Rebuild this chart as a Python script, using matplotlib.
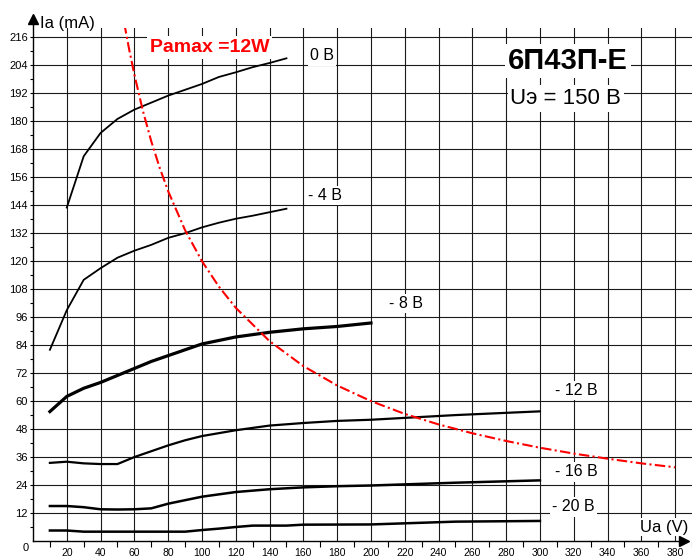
import numpy as np
import matplotlib
matplotlib.use("Agg")
import matplotlib.pyplot as plt

plt.rcParams['font.family'] = ['Liberation Sans', 'DejaVu Sans']

# anode characteristics 6P43P-E, Ug2 = 150 V
ua_0 = [20, 30, 40, 50, 60, 70, 80, 90, 100, 110, 120, 130, 140, 150]
ia_0 = [143, 165, 175, 181, 185, 188, 191, 193.5, 196, 199, 201, 203.2, 205, 207]

ua_4 = [10, 20, 30, 40, 50, 60, 70, 80, 90, 100, 110, 120, 130, 140, 150]
ia_4 = [82, 99, 112, 117, 121.5, 124.5, 127, 130, 132, 134.5, 136.5, 138.2, 139.5, 141, 142.5]

ua_8 = [10, 20, 30, 40, 50, 60, 70, 80, 90, 100, 120, 140, 160, 180, 200]
ia_8 = [55.5, 62, 65.5, 68, 71, 74, 77, 79.5, 82, 84.5, 87.5, 89.5, 91, 92, 93.5]

ua_12 = [10, 20, 30, 40, 50, 60, 70, 80, 90, 100, 120, 140, 160, 180, 200, 250, 300]
ia_12 = [33.5, 34, 33.3, 33, 33, 36, 38.5, 41, 43.2, 45, 47.5, 49.5, 50.6, 51.5, 52, 54, 55.6]

ua_16 = [10, 20, 30, 40, 50, 60, 70, 80, 90, 100, 120, 140, 160, 180, 200, 250, 300]
ia_16 = [15, 15, 14.5, 13.6, 13.5, 13.6, 14, 16, 17.5, 19, 21, 22.2, 23, 23.5, 23.8, 25, 26]

ua_20 = [10, 20, 30, 40, 60, 80, 90, 100, 110, 120, 130, 150, 160, 200, 250, 300]
ia_20 = [4.5, 4.5, 4, 4, 4, 4, 4, 4.7, 5.3, 6, 6.6, 6.6, 7, 7.1, 8.3, 8.6]

# Pa max = 12 W boundary
ua_pa = [54, 57, 60, 65, 70, 75, 80, 90, 100, 110, 120, 140, 160, 180, 200,
         220, 240, 260, 280, 300, 320, 340, 360, 380]
ia_pa = [222, 210.5, 200, 184.6, 171.4, 160, 150, 133.3, 120, 109.1, 100, 85.7, 75, 66.7, 60,
         54.5, 50, 46.2, 42.9, 40, 37.5, 35.3, 33.3, 31.6]

curve_labels = ['0 В', '- 4 В', '- 8 В', '- 12 В', '- 16 В', '- 20 В']
label_pos = [(171, 208), (173, 148.3), (220.6, 102), (321.8, 64.7), (321.8, 29.6), (320, 14.6)]

x_ticks = list(range(20, 381, 20))
y_ticks = list(range(12, 217, 12))

fig = plt.figure(figsize=(6.92, 5.58), dpi=100)
ax = fig.add_axes([33 / 692, 17 / 558, 659 / 692, 513 / 558])
ax.set_xlim(0, 387.6)
ax.set_ylim(0, 220)

for s in ax.spines.values():
    s.set_visible(False)

ax.set_xticks(x_ticks)
ax.set_xticks([v - 10 for v in x_ticks] + [390], minor=True)
ax.set_yticks(y_ticks)
ax.set_yticks([v - 6 for v in y_ticks], minor=True)
ax.set_xticklabels([str(v) for v in x_ticks], fontsize=7.5)
ax.set_yticklabels([str(v) for v in y_ticks], fontsize=8)
ax.tick_params(axis='x', which='major', length=0, pad=5)
ax.tick_params(axis='x', which='minor', length=4, width=0.8, direction='out')
ax.tick_params(axis='y', which='both', length=2.3, width=0.8, pad=1.5, direction='out')
ax.grid(True, which='major', color='#1a1a1a', linewidth=0.8)
ax.set_axisbelow(True)

# axes with arrows
ax.plot([0, 0], [0, 224], color='black', lw=1.0, clip_on=False, zorder=5)
ax.plot([0, 386], [0, 0], color='black', lw=1.0, clip_on=False, zorder=5)
ax.plot([0], [224], marker='^', color='black', ms=7, clip_on=False, zorder=6)
ax.plot([385.5], [0], marker='>', color='black', ms=7, clip_on=False, zorder=6)
ax.text(-2.5, -2.8, '0', fontsize=8, ha='right', va='center', clip_on=False)

ax.plot(ua_0, ia_0, color='black', lw=1.3, zorder=3)
ax.plot(ua_4, ia_4, color='black', lw=1.3, zorder=3)
ax.plot(ua_8, ia_8, color='black', lw=2.3, zorder=3)
ax.plot(ua_12, ia_12, color='black', lw=1.6, zorder=3)
ax.plot(ua_16, ia_16, color='black', lw=1.8, zorder=3)
ax.plot(ua_20, ia_20, color='black', lw=1.8, zorder=3)

ax.plot(ua_pa, ia_pa, color='#ff0000', lw=1.5, linestyle=(0, (5, 1.6, 1, 1.6)), zorder=4)

box = dict(facecolor='white', edgecolor='none', pad=1.5)
for lab, (px, py) in zip(curve_labels, label_pos):
    ax.text(px, py, lab, fontsize=11.5, ha='center', va='center', bbox=box, zorder=4)

ax.text(104.7, 211.7, 'Pamax =12W', color='#ff0000', fontsize=14, fontweight='bold',
        ha='center', va='center', bbox=dict(facecolor='white', edgecolor='none', pad=2), zorder=4)
ax.text(316.5, 205.7, '6П43П-Е', fontsize=21, fontweight='bold', ha='center', va='center',
        bbox=dict(facecolor='white', edgecolor='none', pad=2), zorder=4)
ax.text(315.3, 189.7, 'Uэ = 150 В', fontsize=16, ha='center', va='center',
        bbox=dict(facecolor='white', edgecolor='none', pad=2), zorder=4)
ax.text(20.3, 222, 'Ia (mA)', fontsize=12, ha='center', va='center', clip_on=False)
ax.text(373.5, 6, 'Ua (V)', fontsize=12, ha='center', va='center',
        bbox=dict(facecolor='white', edgecolor='none', pad=1), zorder=4)

fig.savefig('out.png', dpi=100)
